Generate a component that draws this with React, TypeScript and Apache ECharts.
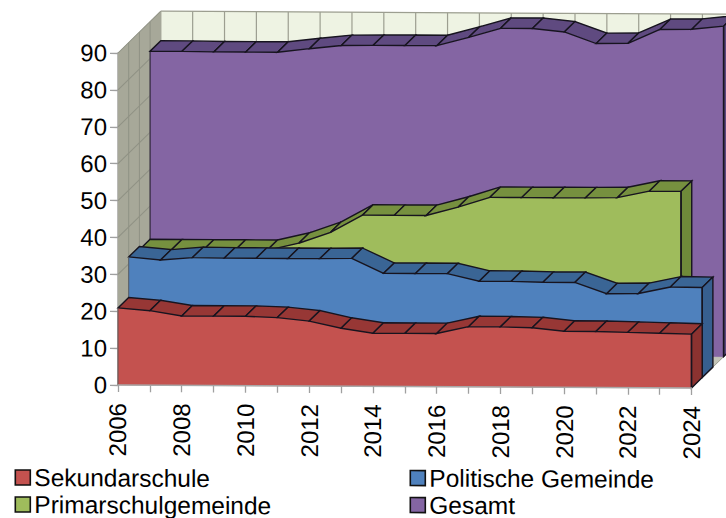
import React, { useEffect, useRef } from "react";
import * as echarts from "echarts";

const years = ["2006","2007","2008","2009","2010","2011","2012","2013","2014","2015","2016","2017","2018","2019","2020","2021","2022","2023","2024"];
const sekundarschule = [20.9,20.2,18.8,18.8,18.8,18.5,17.6,15.7,14.4,14.4,14.4,16.3,16.3,16.1,15.2,15.2,15.0,14.8,14.6];
const politischeGemeinde = [31.9,31.1,31.8,31.7,31.7,31.7,31.7,31.8,27.8,27.8,27.8,25.8,25.8,25.6,25.6,22.6,22.7,24.5,24.4];
const primarschulgemeinde = [31.0,31.0,31.0,31.0,31.0,33.0,36.0,40.7,40.7,40.7,43.0,45.7,45.7,45.7,45.7,45.8,47.6,47.6];
const gesamt = [82.0,82.0,81.9,81.9,81.9,82.9,83.8,83.9,83.9,83.9,86.2,88.7,88.7,87.8,84.7,84.8,88.6,88.7,89.6];
const yTicks = [0,10,20,30,40,50,60,70,80,90];

const DX = 10.7;
const DY = 10.5;
const LAYERS = 4;
const EDGE = "#17141f";

const poly = (points: number[][], fill: string, stroke?: string, lineWidth = 0) => ({
  type: "polygon",
  shape: { points },
  style: { fill, stroke: stroke || fill, lineWidth: stroke ? lineWidth : 0.4 },
});
const seg = (a: number[], b: number[], stroke: string, lineWidth: number) => ({
  type: "line",
  shape: { x1: a[0], y1: a[1], x2: b[0], y2: b[1] },
  style: { stroke, lineWidth },
});

function wallRenderer(params: any, api: any) {
  if (params.dataIndex !== 0) return null;
  const off = (p: number[], d: number) => [p[0] + DX * d, p[1] - DY * d];
  const last = years.length - 1;
  const o = api.coord([0, 0]);
  const t = api.coord([0, 90]);
  const r = api.coord([last, 0]);
  const rt = api.coord([last, 90]);
  const kids: any[] = [
    poly([o, r, off(r, LAYERS), off(o, LAYERS)], "#c3c4b8"),
    poly([o, t, off(t, LAYERS), off(o, LAYERS)], "#a7a899"),
    poly([off(o, LAYERS), off(t, LAYERS), off(rt, LAYERS), off(r, LAYERS)], "#eef3e3"),
  ];
  yTicks.forEach((v) => {
    const p = api.coord([0, v]);
    const q = api.coord([last, v]);
    kids.push(seg(p, off(p, LAYERS), "#8f9184", 1));
    kids.push(seg(off(p, LAYERS), off(q, LAYERS), "#9c9e90", 1.2));
  });
  years.forEach((_, k) => {
    const a = api.coord([k, 0]);
    const b = api.coord([k, 90]);
    kids.push(seg(off(a, LAYERS), off(b, LAYERS), "#9c9e90", 1.2));
    kids.push(seg(a, off(a, LAYERS), "#8f9184", 0.8));
  });
  [1, 2, 3].forEach((d) => kids.push(seg(off(o, d), off(t, d), "#8f9184", 1)));
  return { type: "group", children: kids };
}

const layerRenderer = (values: number[], layer: number, front: string, top: string, side: string) =>
  function (params: any, api: any) {
    if (params.dataIndex !== 0) return null;
    const at = (p: number[], d: number) => [p[0] + DX * d, p[1] - DY * d];
    const tops = values.map((v, k) => api.coord([k, v]));
    const bases = values.map((_, k) => api.coord([k, 0]));
    const n = values.length - 1;
    const kids: any[] = [];
    kids.push(poly([...tops.map((p) => at(p, layer)), ...bases.slice().reverse().map((p) => at(p, layer))], front));
    for (let k = 0; k < n; k++) {
      kids.push(poly(
        [at(tops[k], layer), at(tops[k + 1], layer), at(tops[k + 1], layer + 1), at(tops[k], layer + 1)],
        top, EDGE, 1.4));
    }
    kids.push(poly(
      [at(tops[n], layer), at(tops[n], layer + 1), at(bases[n], layer + 1), at(bases[n], layer)],
      side, EDGE, 1.4));
    kids.push(seg(at(tops[0], layer), at(bases[0], layer), layer === 3 ? EDGE : "#5a5a5a", 0.9));
    kids.push(seg(at(tops[n], layer), at(bases[n], layer), EDGE, 1.4));
    return { type: "group", children: kids };
  };

const toData = (values: number[]) => values.map((v, k) => [k, v]);

const layerSeries = (name: string, values: number[], layer: number, front: string, top: string, side: string) => ({
  type: "custom",
  name,
  silent: true,
  coordinateSystem: "cartesian2d",
  itemStyle: { color: front },
  encode: { x: 0, y: 1 },
  data: toData(values),
  renderItem: layerRenderer(values, layer, front, top, side),
});

const legendAt = (name: string, left: number, top: number) => ({
  data: [name],
  left,
  top,
  padding: 0,
  itemWidth: 15,
  itemHeight: 15,
  itemGap: 0,
  icon: "rect",
  itemStyle: { borderColor: "#111", borderWidth: 1.6 },
  textStyle: { color: "#000", fontFamily: "Liberation Sans", fontSize: 24.5, lineHeight: 25, padding: [0, 0, 0, -1] },
  selectedMode: false,
});

export default function App() {
  const ref = useRef<HTMLDivElement>(null);
  useEffect(() => {
    document.body.style.margin = "0";
    const chart = echarts.init(ref.current!, undefined, { renderer: "svg" });
    chart.setOption({
      animation: false,
      backgroundColor: "#fff",
      grid: { left: 118, right: 34.5, top: 53, bottom: 133, containLabel: false },
      xAxis: {
        type: "category",
        data: years,
        boundaryGap: false,
        z: 3,
        axisLine: { lineStyle: { color: "#a8a8a8", width: 1.5 } },
        axisTick: { length: 7, lineStyle: { color: "#a0a0a0", width: 1.3 }, interval: 0 },
        axisLabel: {
          interval: 1,
          rotate: 90,
          margin: 18,
          color: "#000",
          fontFamily: "Liberation Sans",
          fontSize: 24,
        },
        splitLine: { show: false },
      },
      yAxis: {
        type: "value",
        min: 0,
        max: 90,
        interval: 10,
        z: 1,
        axisLine: { show: true, lineStyle: { color: "#a8a8a8", width: 1.5 } },
        axisTick: { show: true, length: 8, lineStyle: { color: "#a0a0a0", width: 1.3 } },
        axisLabel: { margin: 11, color: "#000", fontFamily: "Liberation Sans", fontSize: 24 },
        splitLine: { show: false },
      },
      legend: [
        legendAt("Sekundarschule", 14.5, 465.5),
        legendAt("Primarschulgemeinde", 14.5, 492.5),
        legendAt("Politische Gemeinde", 409.5, 464),
        legendAt("Gesamt", 409.5, 491),
      ],
      series: [
        {
          type: "custom",
          name: "Wände",
          silent: true,
          coordinateSystem: "cartesian2d",
          encode: { x: 0, y: 1 },
          data: [[0, 0]],
          renderItem: wallRenderer,
        },
        layerSeries("Gesamt", gesamt, 3, "#8465a3", "#5f4a80", "#5f4a80"),
        layerSeries("Primarschulgemeinde", primarschulgemeinde, 2, "#9fbc5c", "#76903f", "#6f8a3a"),
        layerSeries("Politische Gemeinde", politischeGemeinde, 1, "#4f81bd", "#3a6595", "#375f8f"),
        layerSeries("Sekundarschule", sekundarschule, 0, "#c4524f", "#973735", "#8b3230"),
      ],
    });
    return () => chart.dispose();
  }, []);
  return (
    <div style={{ position: "fixed", left: 0, top: 0, width: 726, height: 518, overflow: "hidden", background: "#fff" }}>
      <div
        ref={ref}
        style={{ width: 726, height: 518, transform: "skewY(0.3deg)", transformOrigin: "118px 385px" }}
      />
    </div>
  );
}
